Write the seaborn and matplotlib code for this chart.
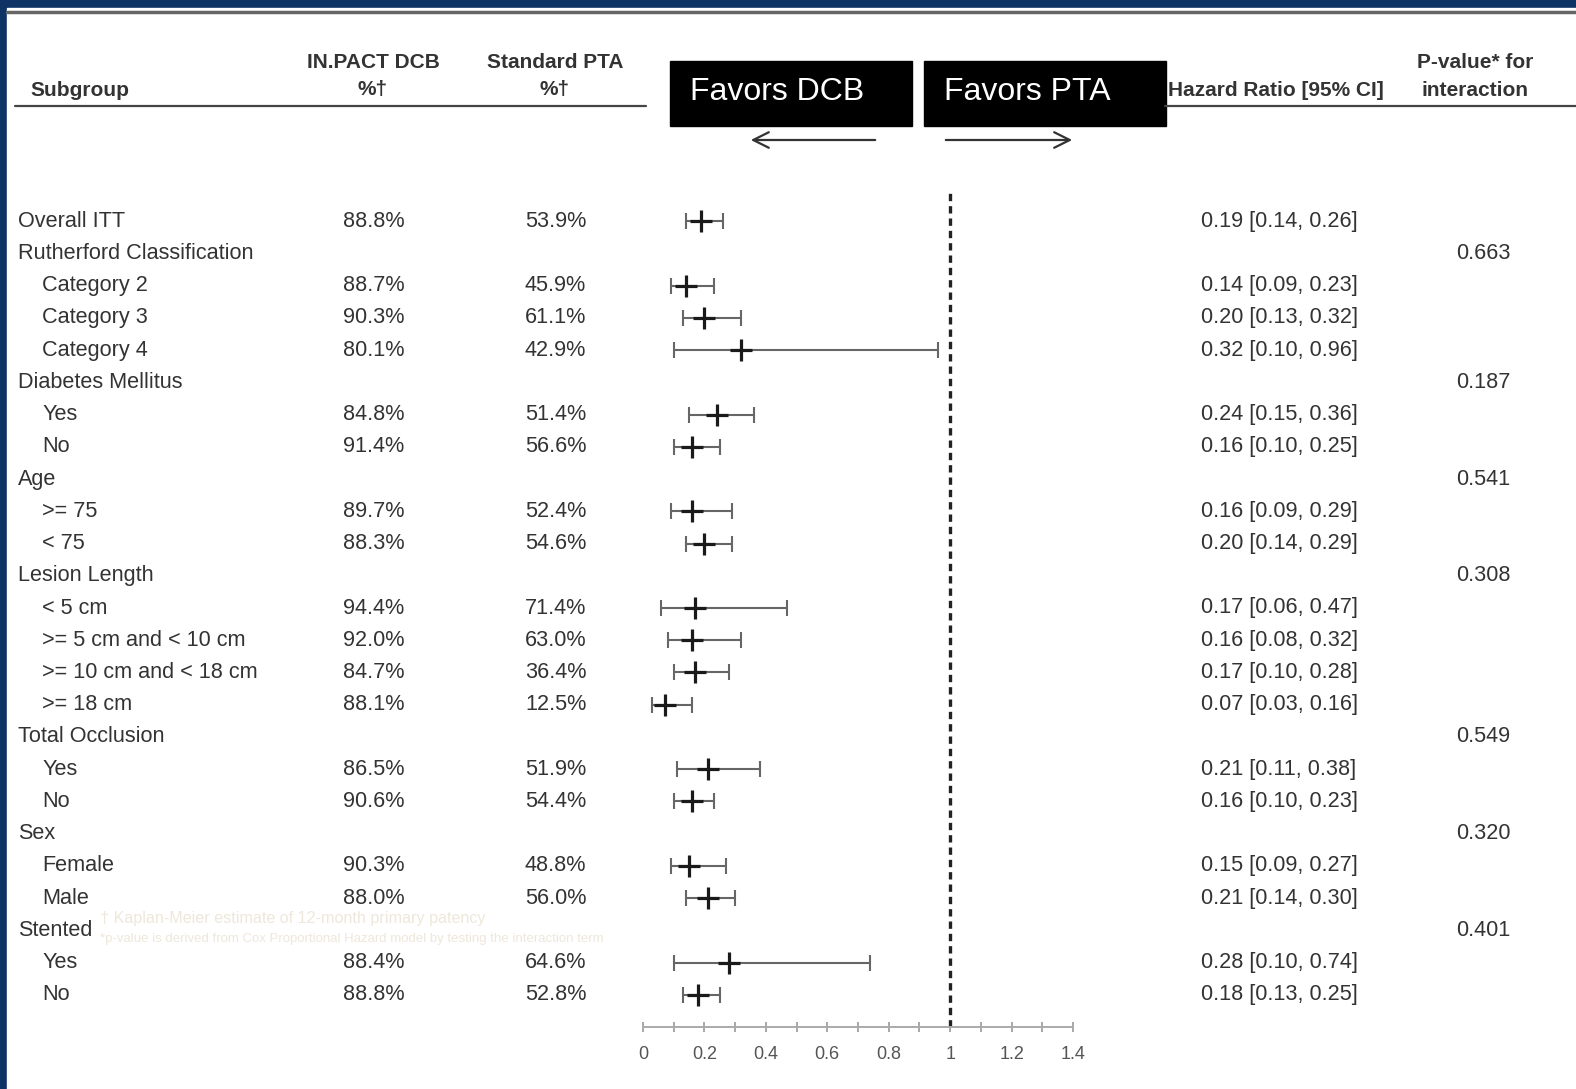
import numpy as np
import pandas as pd
import seaborn as sns
import matplotlib.pyplot as plt
from matplotlib.patches import Rectangle
from matplotlib.transforms import blended_transform_factory

# table rows (header rows have no numbers)
subgroup = ["Overall ITT", "Rutherford Classification", "Category 2", "Category 3", "Category 4",
            "Diabetes Mellitus", "Yes", "No", "Age", ">= 75", "< 75",
            "Lesion Length", "< 5 cm", ">= 5 cm and < 10 cm", ">= 10 cm and < 18 cm", ">= 18 cm",
            "Total Occlusion", "Yes", "No", "Sex", "Female", "Male", "Stented", "Yes", "No"]
indent = [0, 0, 1, 1, 1, 0, 1, 1, 0, 1, 1, 0, 1, 1, 1, 1, 0, 1, 1, 0, 1, 1, 0, 1, 1]
dcb = ["88.8%", "", "88.7%", "90.3%", "80.1%", "", "84.8%", "91.4%", "", "89.7%", "88.3%",
       "", "94.4%", "92.0%", "84.7%", "88.1%", "", "86.5%", "90.6%", "", "90.3%", "88.0%", "", "88.4%", "88.8%"]
pta = ["53.9%", "", "45.9%", "61.1%", "42.9%", "", "51.4%", "56.6%", "", "52.4%", "54.6%",
       "", "71.4%", "63.0%", "36.4%", "12.5%", "", "51.9%", "54.4%", "", "48.8%", "56.0%", "", "64.6%", "52.8%"]
hr = [0.19, None, 0.14, 0.20, 0.32, None, 0.24, 0.16, None, 0.16, 0.20,
      None, 0.17, 0.16, 0.17, 0.07, None, 0.21, 0.16, None, 0.15, 0.21, None, 0.28, 0.18]
lo = [0.14, None, 0.09, 0.13, 0.10, None, 0.15, 0.10, None, 0.09, 0.14,
      None, 0.06, 0.08, 0.10, 0.03, None, 0.11, 0.10, None, 0.09, 0.14, None, 0.10, 0.13]
hi = [0.26, None, 0.23, 0.32, 0.96, None, 0.36, 0.25, None, 0.29, 0.29,
      None, 0.47, 0.32, 0.28, 0.16, None, 0.38, 0.23, None, 0.27, 0.30, None, 0.74, 0.25]
pval = ["", "0.663", "", "", "", "0.187", "", "", "0.541", "", "",
        "0.308", "", "", "", "", "0.549", "", "", "0.320", "", "", "0.401", "", ""]
ticks = [0, 0.2, 0.4, 0.6, 0.8, 1, 1.2, 1.4]
tick_labels = ["0", "0.2", "0.4", "0.6", "0.8", "1", "1.2", "1.4"]

df = pd.DataFrame({"row": range(len(subgroup)), "hr": hr, "lo": lo, "hi": hi})
pts = df.dropna()

sns.set_style("white")
plt.rcParams['font.family'] = ['Liberation Sans', 'DejaVu Sans']

W, H = 1576, 1089
fig = plt.figure(figsize=(W / 100, H / 100), dpi=100, facecolor="#0d3465")

# background layer in pixel coordinates
bg = fig.add_axes([0, 0, 1, 1])
bg.set_xlim(0, W)
bg.set_ylim(H, 0)
bg.axis("off")
bg.add_patch(Rectangle((7, 8), W, H, color="white", zorder=0))
bg.plot([7, W], [12, 12], color="#666666", lw=2.5)
bg.plot([15, 646], [106, 106], color="#444444", lw=1.6)
bg.plot([1165, W], [106, 106], color="#444444", lw=1.6)

txt = "#333333"
fs = 15.6
bg.text(30, 91, "Subgroup", fontsize=15, weight="bold", color=txt, va="center")
bg.text(373, 63, "IN.PACT DCB", fontsize=15, weight="bold", color=txt, ha="center", va="center")
bg.text(373, 90, "%†", fontsize=15, weight="bold", color=txt, ha="center", va="center")
bg.text(555, 63, "Standard PTA", fontsize=15, weight="bold", color=txt, ha="center", va="center")
bg.text(555, 90, "%†", fontsize=15, weight="bold", color=txt, ha="center", va="center")
bg.text(1168, 91, "Hazard Ratio [95% CI]", fontsize=15, weight="bold", color=txt, va="center")
bg.text(1475, 63, "P-value* for", fontsize=15, weight="bold", color=txt, ha="center", va="center")
bg.text(1475, 90, "interaction", fontsize=15, weight="bold", color=txt, ha="center", va="center")

# favors boxes and arrows
bg.add_patch(Rectangle((670, 61), 242, 65, color="black"))
bg.add_patch(Rectangle((924, 61), 242, 65, color="black"))
bg.text(690, 92, "Favors DCB", fontsize=23, color="white", va="center")
bg.text(944, 92, "Favors PTA", fontsize=23, color="white", va="center")
bg.annotate("", xy=(748, 140), xytext=(878, 140),
            arrowprops=dict(arrowstyle="->", color="#333333", lw=1.6, mutation_scale=28))
bg.annotate("", xy=(1075, 140), xytext=(943, 140),
            arrowprops=dict(arrowstyle="->", color="#333333", lw=1.6, mutation_scale=28))

# footnotes (very faint)
bg.text(100, 918, "† Kaplan-Meier estimate of 12-month primary patency", fontsize=11.6, color="#eee7db", va="center")
bg.text(100, 939, "*p-value is derived from Cox Proportional Hazard model by testing the interaction term",
        fontsize=9.5, color="#eee7db", va="center")

# forest plot axes
top_px, bot_px = 189, 1027
ax = fig.add_axes([643 / W, (H - bot_px) / H, (1073 - 643) / W, (bot_px - top_px) / H])
ax.set_facecolor("none")
ax.set_xlim(0, 1.4)
ax.set_ylim(len(subgroup), -1)
ax.axvline(1, color="#222222", lw=2.4, ls=(0, (2.2, 1.5)))
ax.errorbar(pts["hr"], pts["row"], xerr=[pts["hr"] - pts["lo"], pts["hi"] - pts["hr"]],
            fmt="none", ecolor="#666666", elinewidth=1.5, capsize=6, capthick=1.5)
sns.scatterplot(data=pts, x="hr", y="row", marker="+", s=260, linewidth=2.3, color="#1a1a1a", ax=ax, zorder=3)
ax.set_xlabel("")
ax.set_ylabel("")
ax.set_yticks([])
ax.set_xticks(ticks)
ax.set_xticklabels(tick_labels)
ax.set_xticks(np.arange(0.1, 1.4, 0.2), minor=True)
ax.tick_params(axis="x", which="both", direction="inout", length=7, width=1.2, color="#999999",
               labelsize=13, labelcolor="#555555", pad=10, bottom=True)
for s in ["top", "left", "right"]:
    ax.spines[s].set_visible(False)
ax.spines["bottom"].set_color("#aaaaaa")
ax.spines["bottom"].set_linewidth(1.4)

# table columns: x in pixels, y in forest rows
tr = blended_transform_factory(bg.transData, ax.transData)
for i in range(len(subgroup)):
    bg.text(42 if indent[i] else 18, i, subgroup[i], fontsize=fs, color=txt, va="center", transform=tr)
    if dcb[i]:
        bg.text(343, i, dcb[i], fontsize=fs, color=txt, va="center", transform=tr)
        bg.text(525, i, pta[i], fontsize=fs, color=txt, va="center", transform=tr)
        bg.text(1201, i, "%.2f [%.2f, %.2f]" % (hr[i], lo[i], hi[i]), fontsize=fs, color=txt,
                va="center", transform=tr)
    if pval[i]:
        bg.text(1456, i, pval[i], fontsize=fs, color=txt, va="center", transform=tr)

fig.savefig("out.png", dpi=100, facecolor=fig.get_facecolor())
